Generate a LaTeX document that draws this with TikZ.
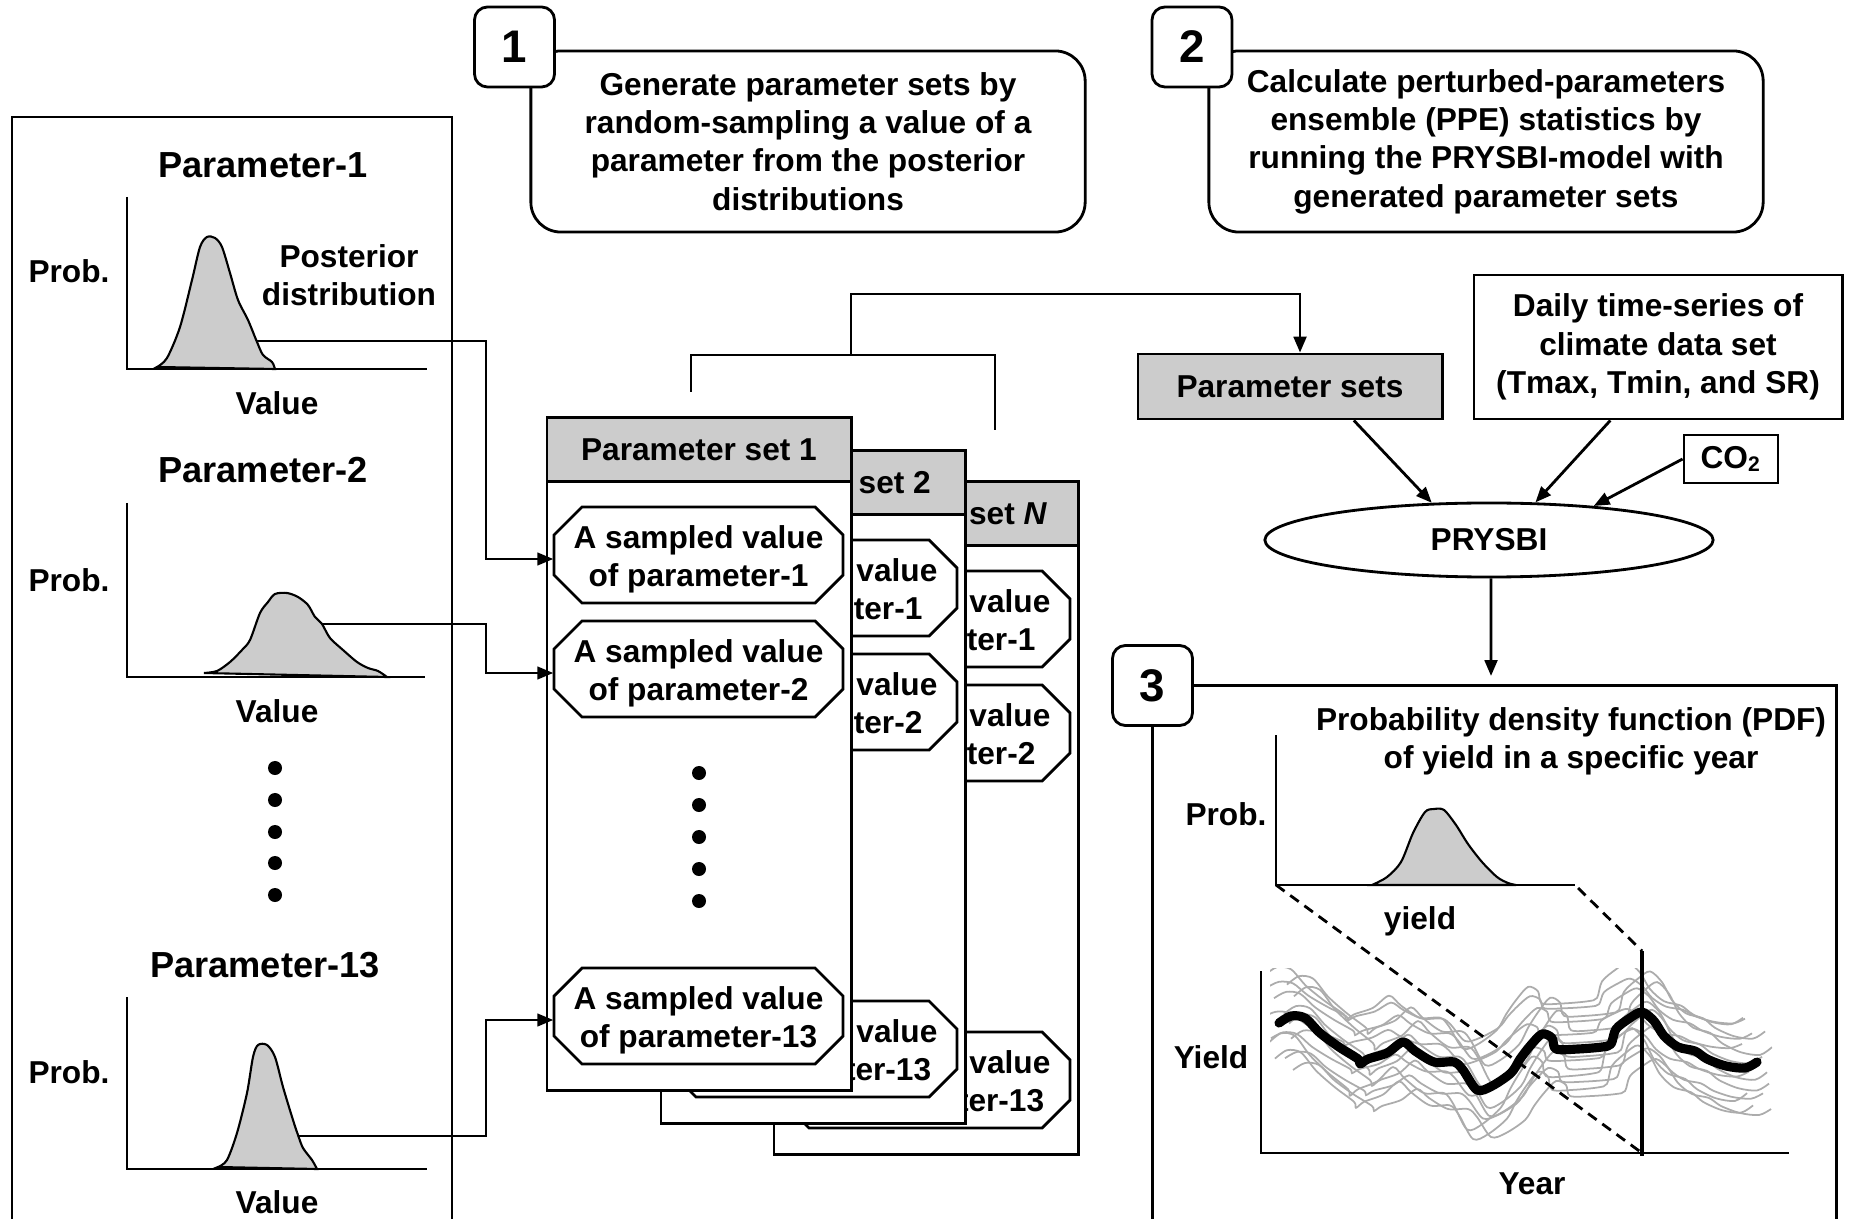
\documentclass[tikz,border=0pt]{standalone}
\usepackage{fontspec}
\setmainfont{Liberation Sans}
\usetikzlibrary{arrows.meta,shapes.geometric}

\tikzset{
    lbl/.style={font=\fontsize{9}{10.9}\selectfont\bfseries, align=center, inner sep=0pt},
    parhead/.style={font=\fontsize{10.3}{12}\selectfont\bfseries, inner sep=0pt, anchor=base},
    stepbox/.style={draw, line width=0.8pt, rounded corners=0.3cm, minimum width=5.54cm, minimum height=1.81cm, lbl},
    numbox/.style={draw, line width=0.8pt, fill=white, rounded corners=0.13cm, minimum width=0.8cm, minimum height=0.8cm, inner sep=0pt, font=\fontsize{13}{13}\selectfont\bfseries},
    flatbox/.style={draw, line width=0.8pt, lbl},
    arr/.style={-{Triangle[length=4.5pt,width=3.6pt]}, line width=0.6pt},
    axis/.style={line width=0.6pt},
    dens/.style={fill=gray!40, line width=0.6pt},
}

% octagonal value box: name, centre, text
\newcommand{\octbox}[3]{%
    \draw[line width=0.8pt, fill=white] (#2) ++(-116.5,-48) -- ++(233,0) -- ++(28,28) -- ++(0,40) -- ++(-28,28) -- ++(-233,0) -- ++(-28,-28) -- ++(0,-40) -- cycle;
    \node[lbl, minimum width=2.89cm, minimum height=0.96cm, yshift=-0.04cm] (#1) at (#2) {#3};
}

% ensemble mean of the yield series
\newcommand{\yieldline}{plot[smooth, tension=0.5] coordinates {(1279,1023) (1291,1016) (1305,1018) (1320,1033) (1339,1047) (1358,1059) (1360,1064) (1368,1059) (1387,1053) (1403,1042) (1415,1051) (1434,1062) (1454,1062) (1463,1070) (1477,1090) (1492,1086) (1511,1073) (1520,1059) (1530,1046) (1542,1034) (1552,1038) (1556,1049) (1578,1049) (1602,1047) (1611,1044) (1616,1029) (1630,1018) (1642,1012) (1654,1021) (1664,1036) (1678,1047) (1695,1051) (1707,1059) (1726,1066) (1745,1068) (1757,1062)}}

\begin{document}
\begin{tikzpicture}[x=0.01cm, y=-0.01cm]
    \useasboundingbox (0,0) rectangle (1849,1219);

    % Steps 1 and 2
    \node[stepbox] (step1) at (808,141.5) {Generate parameter sets by\\random-sampling a value of a\\parameter from the posterior\\distributions};
    \node[numbox] (n1) at (514.5,47) {1};
    \node[stepbox] (step2) at (1486,141.5) {Calculate perturbed-parameters\\ensemble (PPE) statistics by\\running the PRYSBI-model with\\generated parameter sets};
    \node[numbox] (n2) at (1192,47) {2};

    % Posterior distributions
    \draw[line width=0.8pt] (12,1219) |- (452,117) -- (452,1219);

    \node[parhead] (par1) at (263,178) {Parameter-1};
    \draw[axis] (127,197) -- (127,369) -- (427,369);
    \draw[dens] plot[smooth] coordinates {(157,367) (167,358) (180,327) (192,280) (200,247) (207,237) (215,238) (222,247) (230,273) (238,300) (248,320) (257,342) (263,355) (272,362) (275,369)} -- cycle;
    \coordinate (pd1) at (257,341);
    \node[lbl, anchor=base] (prob1) at (69,283) {Prob.};
    \node[lbl, anchor=base] (val1) at (277,415) {Value};
    \node[lbl] (post) at (349,275) {Posterior\\distribution};

    \node[parhead] (par2) at (263,483) {Parameter-2};
    \draw[axis] (127,503) -- (127,677) -- (425,677);
    \draw[dens] plot[smooth] coordinates {(204,673) (217,671) (230,662) (242,650) (250,640) (260,613) (268,602) (275,594) (287,593) (298,597) (308,605) (315,617) (322,624) (330,638) (343,650) (357,662) (368,668) (378,671) (387,677)} -- cycle;
    \coordinate (pd2) at (322,624);
    \node[lbl, anchor=base] (prob2) at (69,592) {Prob.};
    \node[lbl, anchor=base] (val2) at (277,722) {Value};

    \foreach \y in {768,800,832,863,895}
        \fill (275,\y) circle (0.07cm);

    \node[parhead] (par13) at (265,977) {Parameter-13};
    \draw[axis] (127,997) -- (127,1169) -- (427,1169);
    \draw[dens] plot[smooth] coordinates {(218,1167) (227,1160) (237,1133) (247,1093) (253,1057) (258,1045) (267,1045) (275,1057) (283,1087) (293,1120) (298,1135) (303,1148) (312,1160) (317,1169)} -- cycle;
    \coordinate (pd13) at (298,1136);
    \node[lbl, anchor=base] (prob13) at (69,1083) {Prob.};
    \node[lbl, anchor=base] (val13) at (277,1213) {Value};

    % Parameter set cards, back to front
    \foreach \k/\dx/\dy/\lab in {N/227/64/{\itshape N}, 2/114/33/2, 1/0/0/1}{
        \begin{scope}[shift={(\dx,\dy)}]
            \node[draw, line width=0.8pt, fill=white, minimum width=3.04cm, minimum height=6.72cm] (card\k) at (699,754) {};
            \node[flatbox, fill=gray!40, minimum width=3.04cm, minimum height=0.64cm, anchor=north] (head\k) at (card\k.north) {Parameter set \lab};
            \octbox{s\k-p1}{698.5,555}{A sampled value\\of parameter-1}
            \octbox{s\k-p2}{698.5,669}{A sampled value\\of parameter-2}
            \octbox{s\k-p13}{698.5,1016}{A sampled value\\of parameter-13}
            \foreach \y in {773,805,837,869,901}
                \fill (699,\y) circle (0.07cm);
        \end{scope}
    }

    \draw[arr] (pd1) -- ++(229,0) |- (s1-p1.west);
    \draw[arr] (pd2) -- ++(164,0) |- (s1-p2.west);
    \draw[arr] (pd13) -- ++(188,0) |- (s1-p13.west);

    % Running the model
    \node[flatbox, fill=gray!40, minimum width=3.04cm, minimum height=0.65cm] (psets) at (1290,386.5) {Parameter sets};
    \node[flatbox, minimum width=3.68cm, minimum height=1.44cm] (clim) at (1658,347) {Daily time-series of\\climate data set\\(Tmax, Tmin, and SR)};
    \node[flatbox, minimum width=0.94cm, minimum height=0.48cm] (co2) at (1731,459) {CO\textsubscript{2}};
    \node[draw, ellipse, line width=0.8pt, minimum width=4.48cm, minimum height=0.74cm, lbl] (prysbi) at (1489,540) {PRYSBI};

    \coordinate (brL) at (691,392);
    \coordinate (brM) at (851,355);
    \coordinate (brR) at (995,430);
    \draw[line width=0.8pt] (brL) |- (brM) -| (brR);
    \draw[arr, line width=0.8pt] (brM) -- ++(0,-61) -| ([xshift=0.1cm]psets.north);

    \draw[arr, line width=0.8pt] (psets.-28) -- (prysbi.147);
    \draw[arr, line width=0.8pt] (clim.-123) -- (prysbi.39.5);
    \draw[arr, line width=0.8pt] (co2.west) -- (prysbi.18);
    \coordinate (p3in) at (1491,676);
    \draw[arr, line width=0.8pt] ([xshift=0.02cm]prysbi.south) -- (p3in);

    % Step 3
    \node[numbox] (n3) at (1152.5,685.5) {3};
    \draw[line width=0.8pt] (n3.east) -- ++(642.5,0) -- ++(0,540);
    \draw[line width=0.8pt] (n3.south) -- ++(0,500);
    \node[lbl] (pdftitle) at (1571,741) {Probability density function (PDF)\\of yield in a specific year};

    \draw[axis] (1276,735) -- (1276,885) -- (1575,885);
    \draw[dens] plot[smooth] coordinates {(1372,885) (1387,877) (1401,862) (1413,833) (1425,812) (1434,809) (1444,810) (1456,825) (1468,844) (1482,862) (1497,877) (1508,883) (1516,885)} -- cycle;
    \node[lbl] (prob3) at (1226,814) {Prob.};
    \node[lbl] (yld) at (1420,921) {yield};

    \begin{scope}
        \clip (1270,968) rectangle (1772,1145);
        \foreach \dx/\dy/\s in {-12/-40/0.8, 8/-34/1.2, -5/-27/0.9, 15/-20/1.3, -15/-13/0.7, 5/-7/1.1, 10/6/1.25, -8/12/0.85, 12/19/1.15, -10/26/1.3, 6/33/0.9, -4/40/1.2, 14/47/1.0, -14/-46/1.1}
            \draw[gray!65, line width=0.5pt, shift={(\dx,\dy+1045)}, yscale=\s, shift={(0,-1045)}] \yieldline;
    \end{scope}
    \draw[dashed, dash pattern=on 3pt off 2pt, line width=0.8pt] (1276,885) -- (1642,1153);
    \draw[dashed, dash pattern=on 3pt off 2pt, line width=0.8pt] (1578,888) -- (1642,951);
    \draw[line width=2.6pt, line join=round, line cap=round] \yieldline;
    \draw[line width=1pt] (1642,951) -- (1642,1156);
    \draw[axis] (1261,971) -- (1261,1153) -- (1789,1153);
    \node[lbl] (ylab) at (1211,1057) {Yield};
    \node[lbl] (xlab) at (1532,1184) {Year};
\end{tikzpicture}
\end{document}
